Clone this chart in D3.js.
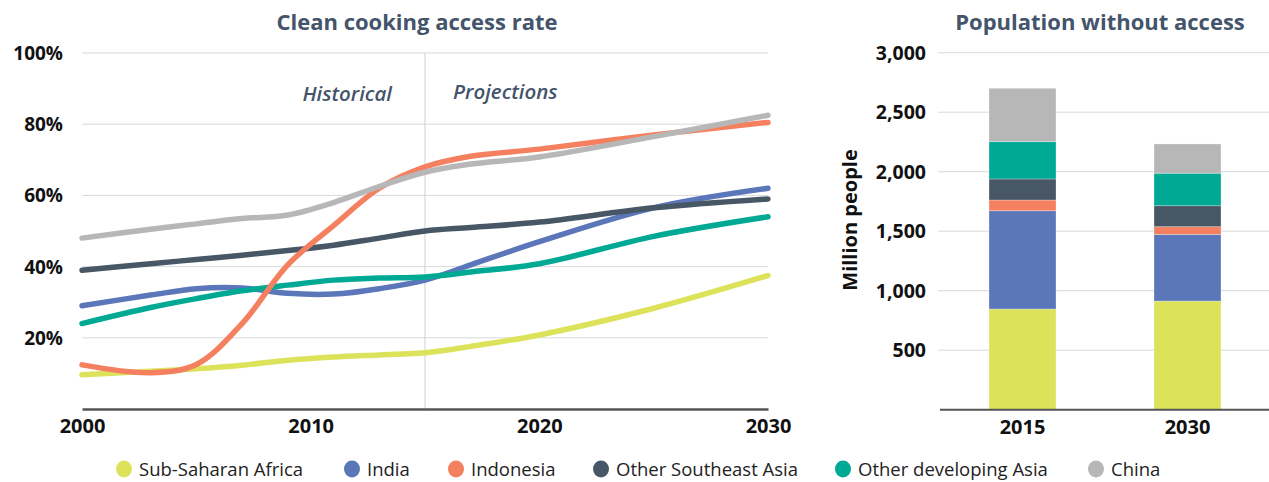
<!DOCTYPE html>
<html><head><meta charset="utf-8">
<script src="https://cdn.jsdelivr.net/npm/d3@7"></script>
<style>
html,body{margin:0;padding:0;background:#fff;}
svg{display:block;font-family:"Open Sans","Noto Sans",sans-serif;}
</style></head>
<body>
<svg id="c" width="1269" height="482"></svg>
<script>
// ---------- data ----------
const series = ["Sub-Saharan Africa","India","Indonesia","Other Southeast Asia","Other developing Asia","China"];
const colors = ["#dce35b","#5b77ba","#f4805f","#475766","#00a994","#b7b7b8"];
const years = [2000,2003,2005,2007,2009,2011,2013,2015,2017,2020,2025,2030];
const ssa   = [9.6,10.6,11.3,12.3,13.7,14.6,15.2,15.8,17.6,20.8,28.3,37.5];
const india = [29,32,33.8,34,32.5,32.3,33.8,36.2,40.5,47,56.5,62];
const indo  = [12.4,10.2,12.5,24,40.5,51.5,62,68,71,73,77,80.5];
const osea  = [39,40.8,42,43.2,44.5,46,48,50,51,52.5,56.5,59];
const oda   = [24,28.5,31,33.2,34.8,36.2,36.8,37.1,38.5,40.8,48.5,54];
const china = [48,50.5,52,53.5,54.5,58,62.5,66.5,68.8,70.8,76.5,82.5];
const rateTicks = [20,40,60,80,100];
const xTicks = [2000,2010,2020,2030];

const barYears = ["2015","2030"];
const popSSA   = [846,913];
const popIndia = [826,560];
const popIndo  = [90,65];
const popOSEA  = [177,176];
const popODA   = [313,273];
const popChina = [449,246];
const popTicks = [500,1000,1500,2000,2500,3000];

const rateSeries = [ssa,india,indo,osea,oda,china];
const popSeries = [popSSA,popIndia,popIndo,popOSEA,popODA,popChina];

// ---------- setup ----------
const svg = d3.select("#c");
const titleColor = "#44546a";
const FONT = "'Open Sans','Noto Sans',sans-serif";

// ---------- left chart ----------
const x = d3.scaleLinear().domain([2000,2030]).range([82,768]);
const y = d3.scaleLinear().domain([0,100]).range([409,53]);

svg.append("text").attr("x",417).attr("y",30).attr("text-anchor","middle")
  .attr("font-size",22).attr("font-weight",700).attr("fill",titleColor)
  .text("Clean cooking access rate");

const gl = svg.append("g");
gl.selectAll("line.grid").data(rateTicks).join("line")
  .attr("x1",x(2000)).attr("x2",x(2030)).attr("y1",d=>y(d)).attr("y2",d=>y(d))
  .attr("stroke","#d9d9d9").attr("stroke-width",1);
gl.selectAll("text.yl").data(rateTicks).join("text")
  .attr("x",63).attr("y",d=>y(d)+7).attr("text-anchor","end")
  .attr("font-size",19).attr("font-weight",700).attr("fill","#111")
  .text(d=>d+"%");
// divider at 2015
gl.append("line").attr("x1",x(2015)).attr("x2",x(2015)).attr("y1",y(100)).attr("y2",y(0))
  .attr("stroke","#d0d0d0").attr("stroke-width",1);
gl.append("text").attr("x",392).attr("y",101).attr("text-anchor","end")
  .attr("font-size",20.5).attr("font-style","italic").attr("font-weight",600).attr("fill",titleColor)
  .text("Historical");
gl.append("text").attr("x",453).attr("y",99)
  .attr("font-size",20.5).attr("font-style","italic").attr("font-weight",600).attr("fill",titleColor)
  .text("Projections");

const line = d3.line().x((d,i)=>x(years[i])).y(d=>y(d)).curve(d3.curveCatmullRom.alpha(0.5));
const drawOrder = [0,1,4,3,2,5];
gl.selectAll("path.s").data(drawOrder).join("path")
  .attr("d",i=>line(rateSeries[i])).attr("fill","none")
  .attr("stroke",i=>colors[i]).attr("stroke-width",5.5).attr("stroke-linecap","round").attr("stroke-linejoin","round");

// x axis
const xAxis = d3.axisBottom(x).tickValues(xTicks).tickFormat(d3.format("d")).tickSize(0).tickPadding(10);
const ga = svg.append("g").attr("transform","translate(0,409)").call(xAxis);
ga.select(".domain").attr("stroke","#555").attr("stroke-width",2.5);
ga.selectAll("text").attr("font-size",20).attr("font-weight",700).attr("fill","#111")
  .attr("font-family",FONT);

// ---------- right chart ----------
const yb = d3.scaleLinear().domain([0,3000]).range([409.7,52.7]);
const xb = d3.scaleBand().domain(barYears).range([940,1270]).paddingInner(0.594).paddingOuter(0.297);

svg.append("text").attr("x",1100).attr("y",30).attr("text-anchor","middle")
  .attr("font-size",22).attr("font-weight",700).attr("fill",titleColor)
  .text("Population without access");

const gr = svg.append("g");
gr.selectAll("line.grid").data(popTicks).join("line")
  .attr("x1",938).attr("x2",1269).attr("y1",d=>yb(d)).attr("y2",d=>yb(d))
  .attr("stroke","#d9d9d9").attr("stroke-width",1);
gr.selectAll("text.yl").data(popTicks).join("text")
  .attr("x",926).attr("y",d=>yb(d)+7).attr("text-anchor","end")
  .attr("font-size",19.5).attr("font-weight",700).attr("fill","#111")
  .text(d=>d3.format(",")(d));
gr.append("text").attr("transform","translate(857,220) rotate(-90)").attr("text-anchor","middle")
  .attr("font-size",20).attr("font-weight",700).attr("fill","#111").text("Million people");

const table = barYears.map((yr,j)=>{const o={year:yr}; series.forEach((s,i)=>o[s]=popSeries[i][j]); return o;});
const stacked = d3.stack().keys(series)(table);
gr.selectAll("g.layer").data(stacked).join("g").attr("fill",(d,i)=>colors[i])
  .selectAll("rect").data(d=>d).join("rect")
  .attr("x",d=>xb(d.data.year)).attr("width",xb.bandwidth())
  .attr("y",d=>yb(d[1])).attr("height",d=>yb(d[0])-yb(d[1]))
  .attr("stroke","#ffffff").attr("stroke-opacity",0.35).attr("stroke-width",0.8);

const xbAxis = d3.axisBottom(xb).tickSize(0).tickPadding(10);
const gb = svg.append("g").attr("transform","translate(0,409.7)").call(xbAxis);
gb.select(".domain").attr("stroke","#555").attr("stroke-width",2).attr("d","M940,0H1269");
gb.selectAll("text").attr("font-size",20).attr("font-weight",700).attr("fill","#111")
  .attr("font-family",FONT);

// ---------- legend ----------
const legendX = [124,352,456,601,843,1096];
const lg = svg.append("g");
const items = lg.selectAll("g").data(series).join("g")
  .attr("transform",(d,i)=>`translate(${legendX[i]},469)`);
items.append("ellipse").attr("rx",8).attr("ry",8.5).attr("fill",(d,i)=>colors[i]);
items.append("text").attr("x",15).attr("y",6.5).attr("font-size",18.5).attr("fill","#222").text(d=>d);
</script>
</body></html>
